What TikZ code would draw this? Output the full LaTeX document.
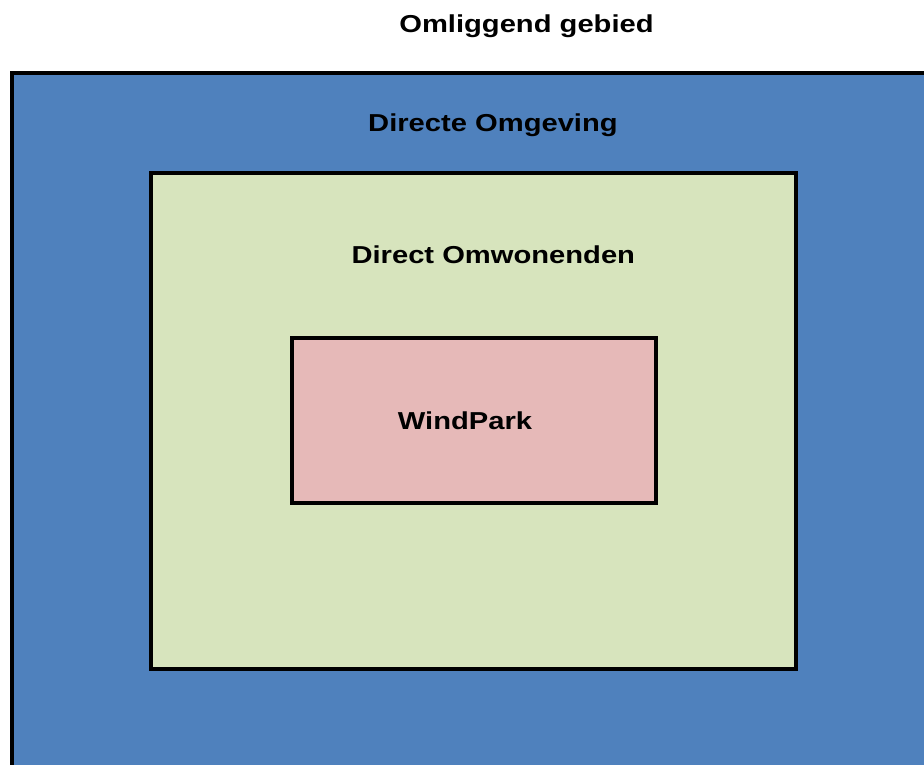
\documentclass[tikz,border=0pt]{standalone}
\usepackage{fontspec}
\newfontfamily\lblfont[FakeStretch=1.19]{Liberation Sans}
\definecolor{zoneblue}{HTML}{4F81BD}
\definecolor{zonegreen}{HTML}{D7E4BD}
\definecolor{zonepink}{HTML}{E6B9B8}
\begin{document}
\begin{tikzpicture}[x=1pt,y=-1pt,
  zone/.style={draw=black,line width=4pt},
  lbl/.style={anchor=base,inner sep=0pt,font=\lblfont\bfseries\fontsize{24.5}{28}\selectfont}]
\useasboundingbox (0,0) rectangle (924,765);
\clip (0,0) rectangle (924,765);
\fill[white] (0,0) rectangle (924,765);
\path[zone,fill=zoneblue] (11.5,73) rectangle (960,800);
\path[zone,fill=zonegreen] (150.5,173) rectangle (795.5,668.5);
\path[zone,fill=zonepink] (291.5,338) rectangle (655.5,503);
\node[lbl] (omliggend) at (526.5,32.5) {Omliggend gebied};
\node[lbl] (directe) at (493,131.5) {Directe Omgeving};
\node[lbl] (omwonenden) at (493.3,263) {Direct Omwonenden};
\node[lbl] (windpark) at (465,429) {WindPark};
\end{tikzpicture}
\end{document}
